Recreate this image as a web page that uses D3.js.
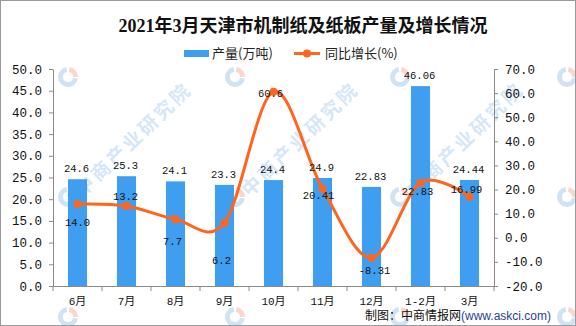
<!DOCTYPE html>
<html>
<head>
<meta charset="utf-8">
<script src="https://cdn.jsdelivr.net/npm/d3@7"></script>
<style>
  html, body { margin: 0; padding: 0; background: #fff; }
  svg { display: block; }
</style>
</head>
<body>
<svg id="chart" width="576" height="326"></svg>
<script>
// ---------------- data ----------------
const titleText = "2021年3月天津市机制纸及纸板产量及增长情况";
const categories = ["6月", "7月", "8月", "9月", "10月", "11月", "12月", "1-2月", "3月"];
const outputValues = [24.6, 25.3, 24.1, 23.3, 24.4, 24.9, 22.83, 46.06, 24.44];   // 产量(万吨)
const growthValues = [14.0, 13.2, 7.7, 6.2, 60.6, 20.41, -8.31, 22.83, 16.99];    // 同比增长(%)
const seriesNames = ["产量(万吨)", "同比增长(%)"];
const leftTicks = [0, 5, 10, 15, 20, 25, 30, 35, 40, 45, 50];
const rightTicks = [-20, -10, 0, 10, 20, 30, 40, 50, 60, 70];
const sourceLabel = "制图：中商情报网";
const sourceUrl = "(www.askci.com)";
const watermarkText = "中商产业研究院";

// ---------------- style / layout ----------------
const W = 576, H = 326;
const plot = { left: 53, right: 494, top: 69, bottom: 286 };
const barColor = "#409ef0";
const lineColor = "#ff651c";
const axisColor = "#8a8a8a";
const numFont = "'Liberation Mono', 'Noto Sans CJK SC', monospace";
const cjkFont = "'Noto Sans CJK SC', sans-serif";
// label offsets (dx, dy) for line labels, relative to the marker
const lineLabelOffsets = [[0, 18], [-1, -10], [-3, 22], [-3, 37], [-3, 2], [-4, 7], [3, 13], [-3, 9], [-3, -7]];

const fmt = v => (Math.abs(Math.round(v * 10) - v * 10) < 1e-9 ? v.toFixed(1) : v.toFixed(2));

const svg = d3.select("#chart");
svg.append("rect").attr("x", 0).attr("y", 0).attr("width", W).attr("height", H).attr("fill", "#fff");

// scales
const x = d3.scaleBand().domain(categories).range([plot.left, plot.right]).padding(0);
const yL = d3.scaleLinear().domain([0, 50]).range([plot.bottom, plot.top]);
const yR = d3.scaleLinear().domain([-20, 70]).range([plot.bottom, plot.top]);
const bw = x.bandwidth();
const barW = bw * 0.39;
const cx = c => x(c) + bw / 2;

// watermarks (faint, beneath the marks)
const wm = svg.append("g").attr("pointer-events", "none");
const wmX = [68, 235, 400, 567], wmY = [77, 197, 317];
const arcBlue = d3.arc().innerRadius(5).outerRadius(10).startAngle(Math.PI * 0.55).endAngle(Math.PI * 1.95);
const arcRed = d3.arc().innerRadius(5).outerRadius(10).startAngle(Math.PI * 0.05).endAngle(Math.PI * 0.5);
wmY.forEach((wy, r) => wmX.forEach(wx => {
  const g = wm.append("g").attr("transform", `translate(${wx},${wy})`);
  g.append("path").attr("d", arcBlue()).attr("fill", "rgba(120,175,225,0.35)");
  g.append("path").attr("d", arcRed()).attr("fill", "rgba(240,140,110,0.35)");
  if (r === 1 && wx < 500) {
    g.append("text")
      .attr("transform", "translate(10,-4) rotate(-44)")
      .attr("dy", "0.35em")
      .attr("font-family", cjkFont).attr("font-weight", "bold").attr("font-size", 19)
      .attr("letter-spacing", 3)
      .attr("fill", "rgba(170,205,240,0.5)")
      .text(watermarkText);
  }
}));

// title
svg.append("text")
  .attr("x", 303).attr("y", 32)
  .attr("text-anchor", "middle")
  .attr("font-family", "'Liberation Serif', 'Noto Sans CJK SC', serif")
  .attr("font-weight", "bold")
  .attr("font-size", 18)
  .attr("fill", "#111")
  .text(titleText);

// legend
const lg = svg.append("g");
lg.append("rect").attr("x", 184).attr("y", 50).attr("width", 25).attr("height", 7).attr("fill", barColor);
lg.append("text").attr("x", 212).attr("y", 53.5).attr("dy", "0.35em")
  .attr("font-family", cjkFont).attr("font-size", 13).attr("fill", "#222").text(seriesNames[0]);
lg.append("line").attr("x1", 294).attr("x2", 320).attr("y1", 53.5).attr("y2", 53.5)
  .attr("stroke", lineColor).attr("stroke-width", 3);
lg.append("circle").attr("cx", 307).attr("cy", 53.5).attr("r", 4).attr("fill", lineColor);
lg.append("text").attr("x", 325).attr("y", 53.5).attr("dy", "0.35em")
  .attr("font-family", cjkFont).attr("font-size", 13).attr("fill", "#222").text(seriesNames[1]);

// bars
svg.append("g").selectAll("rect").data(outputValues).join("rect")
  .attr("x", (d, i) => cx(categories[i]) - barW / 2)
  .attr("y", d => yL(d))
  .attr("width", barW)
  .attr("height", d => yL(0) - yL(d))
  .attr("fill", barColor);

// axes
const axL = svg.append("g").attr("transform", `translate(${plot.left},0)`)
  .call(d3.axisLeft(yL).tickValues(leftTicks).tickSize(4).tickSizeOuter(0).tickPadding(7)
    .tickFormat(d => d.toFixed(1)));
const axR = svg.append("g").attr("transform", `translate(${plot.right},0)`)
  .call(d3.axisRight(yR).tickValues(rightTicks).tickSize(4).tickSizeOuter(0).tickPadding(7)
    .tickFormat(d => d.toFixed(1)));
const axB = svg.append("g").attr("transform", `translate(0,${plot.bottom})`)
  .call(d3.axisBottom(x).tickSize(0).tickSizeOuter(0));
axB.selectAll("text").attr("y", 15.5).attr("dy", "0.35em");
// boundary ticks on the category axis
const bounds = categories.map(c => x(c)).concat([x.range()[1]]);
axB.selectAll("line.bnd").data(bounds).join("line").attr("class", "bnd")
  .attr("x1", d => d).attr("x2", d => d).attr("y1", 0).attr("y2", 5)
  .attr("stroke", axisColor);

[axL, axR, axB].forEach(a => {
  a.select(".domain").attr("stroke", axisColor);
  a.selectAll(".tick line").attr("stroke", axisColor);
  a.selectAll("text").attr("fill", "#111").attr("font-family", numFont);
});
axL.selectAll("text").attr("font-size", 12.5);
axR.selectAll("text").attr("font-size", 12.5);
axB.selectAll("text").attr("font-size", 11);

// line
const lineGen = d3.line()
  .x((d, i) => cx(categories[i]))
  .y(d => yR(d))
  .curve(d3.curveCardinal.tension(0));
svg.append("path").datum(growthValues)
  .attr("d", lineGen)
  .attr("fill", "none")
  .attr("stroke", lineColor)
  .attr("stroke-width", 3);
svg.append("g").selectAll("circle").data(growthValues).join("circle")
  .attr("cx", (d, i) => cx(categories[i]))
  .attr("cy", d => yR(d))
  .attr("r", 4)
  .attr("fill", lineColor);

// bar labels
svg.append("g").selectAll("text").data(outputValues).join("text")
  .attr("x", (d, i) => cx(categories[i]) - 1)
  .attr("y", d => yL(d) - 11)
  .attr("dy", "0.35em")
  .attr("text-anchor", "middle")
  .attr("font-family", numFont).attr("font-size", 10.5).attr("fill", "#111")
  .text(d => fmt(d));

// line labels
svg.append("g").selectAll("text").data(growthValues).join("text")
  .attr("x", (d, i) => cx(categories[i]) + lineLabelOffsets[i][0])
  .attr("y", (d, i) => yR(d) + lineLabelOffsets[i][1])
  .attr("dy", "0.35em")
  .attr("text-anchor", "middle")
  .attr("font-family", numFont).attr("font-size", 10.5).attr("fill", "#111")
  .text(d => fmt(d));

// source
const src = svg.append("text").attr("x", 365).attr("y", 320)
  .attr("font-family", "'Liberation Sans', 'Noto Sans CJK SC', sans-serif").attr("font-size", 12);
src.append("tspan").attr("fill", "#111").text(sourceLabel);
src.append("tspan").attr("fill", "#2a3f9a").text(sourceUrl);

// outer frame
svg.append("rect").attr("x", 0.5).attr("y", 0.5).attr("width", W - 1).attr("height", H - 1)
  .attr("fill", "none").attr("stroke", "#9a9a9a");
</script>
</body>
</html>
